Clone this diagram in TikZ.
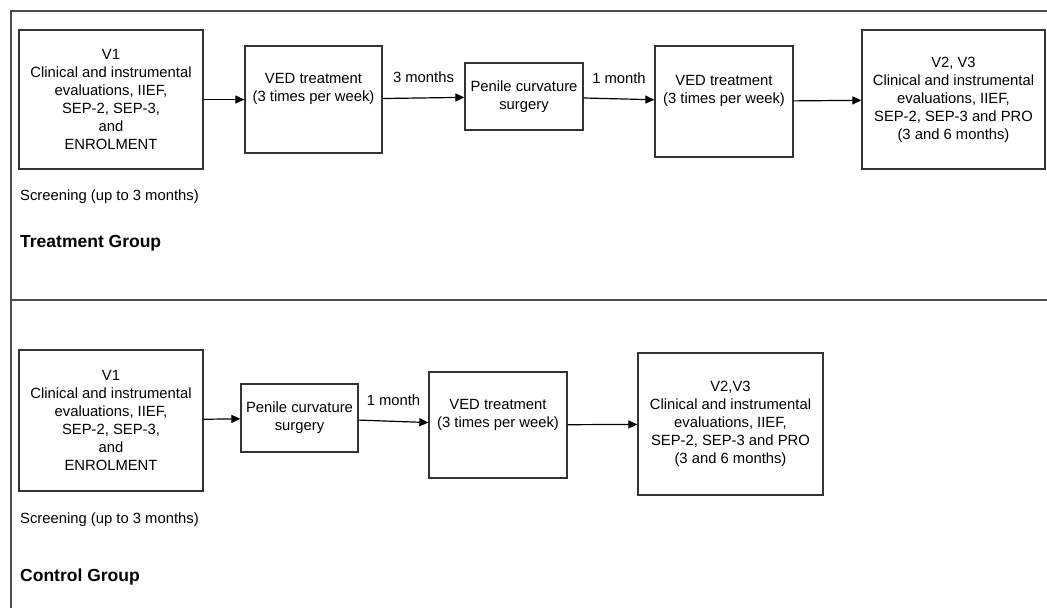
\documentclass[tikz,border=0pt]{standalone}
\usepackage{fontspec}
\setmainfont{Liberation Sans}
\usetikzlibrary{arrows.meta}

\begin{document}
\begin{tikzpicture}[x=1pt, y=-1pt, >={Triangle[length=9pt,width=8pt]},
  box/.style={draw=black!80, line width=1.3pt, align=center, inner sep=2pt,
    font=\fontsize{14.8}{18}\selectfont},
  note/.style={anchor=west, inner sep=0pt, font=\fontsize{14.8}{18}\selectfont},
  grp/.style={anchor=west, inner sep=0pt, font=\fontsize{17.5}{21}\selectfont\bfseries},
  lbl/.style={above=15pt, inner sep=0pt, font=\fontsize{14.8}{18}\selectfont},
  frame/.style={draw=black!70, line width=1.5pt}]
  \useasboundingbox (0,0) rectangle (1047,608);

  % outer frame and divider
  \draw[frame] (1047,11) -- (11,11) -- (11,608);
  \draw[frame] (11,300) -- (1047,300);

  % treatment group
  \node[box, minimum width=184, minimum height=139] (v1T) at (111,99.5)
    {V1\\Clinical and instrumental\\evaluations, IIEF,\\SEP-2, SEP-3,\\and\\ENROLMENT};
  \node[box, minimum width=137, minimum height=107] (vedT) at (313.5,99.5)
    {VED treatment\\(3 times per week)\\ \strut};
  \node[box, minimum width=118, minimum height=67] (surgT) at (524,96.5)
    {Penile curvature\\surgery};
  \node[box, minimum width=138, minimum height=111] (vedTb) at (724,101.5)
    {VED treatment\\(3 times per week)\\ \strut};
  \node[box, minimum width=183, minimum height=139] (v23T) at (953.5,99.5)
    {V2, V3\\Clinical and instrumental\\evaluations, IIEF,\\SEP-2, SEP-3 and PRO\\(3 and 6 months)};
  \node[note] (scrT) at (20,197) {Screening (up to 3 months)};
  \node[grp] (grpT) at (20,243) {Treatment Group};

  \draw[->, line width=1.2pt] (v1T) -- (vedT);
  \draw[->, line width=1.2pt] (vedT) -- (surgT) node[midway,lbl]{3 months};
  \draw[->, line width=1.2pt] (surgT) -- (vedTb) node[midway,lbl]{1 month};
  \draw[->, line width=1.2pt] (vedTb) -- (v23T);

  % control group
  \node[box, minimum width=184, minimum height=141] (v1C) at (111,420.5)
    {V1\\Clinical and instrumental\\evaluations, IIEF,\\SEP-2, SEP-3,\\and\\ENROLMENT};
  \node[box, minimum width=117, minimum height=68] (surgC) at (299.5,418)
    {Penile curvature\\surgery};
  \node[box, minimum width=138, minimum height=106] (vedC) at (498,425)
    {VED treatment\\(3 times per week)\\ \strut};
  \node[box, minimum width=185, minimum height=142] (v23C) at (730.5,424)
    {V2,V3\\Clinical and instrumental\\evaluations, IIEF,\\SEP-2, SEP-3 and PRO\\(3 and 6 months)};
  \node[note] (scrC) at (20,520) {Screening (up to 3 months)};
  \node[grp] (grpC) at (20,577) {Control Group};

  \draw[->, line width=1.2pt] (v1C) -- (surgC);
  \draw[->, line width=1.2pt] (surgC) -- (vedC) node[midway,lbl]{1 month};
  \draw[->, line width=1.2pt] (vedC) -- (v23C);
\end{tikzpicture}
\end{document}
